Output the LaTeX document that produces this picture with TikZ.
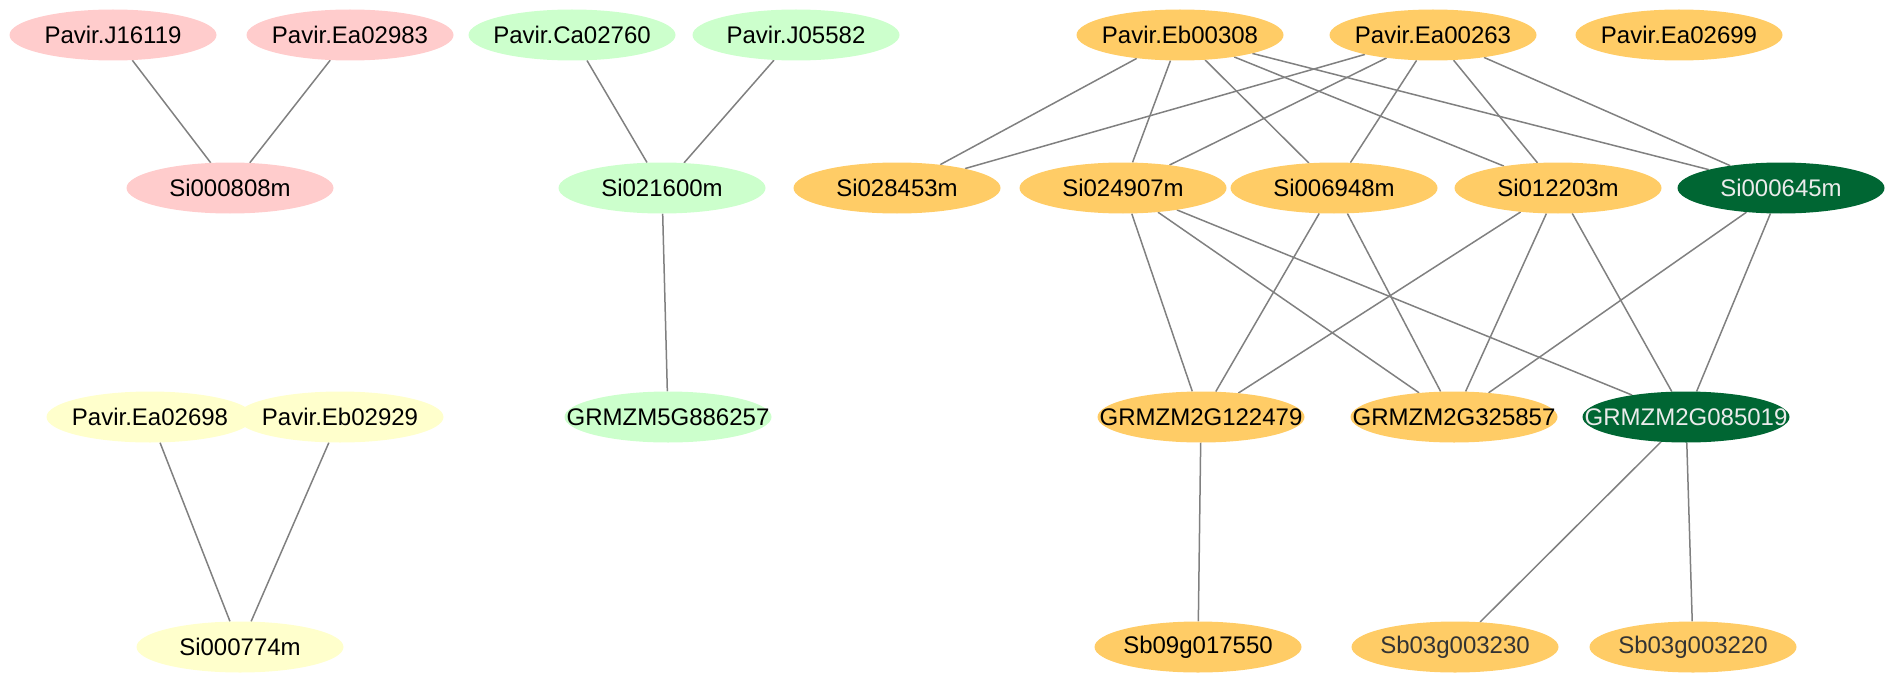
\documentclass[tikz,border=0pt]{standalone}
\usepackage{fontspec}
\setmainfont{Liberation Sans}
\usetikzlibrary{shapes.geometric,backgrounds}
\definecolor{cpink}{HTML}{FFCCCC}
\definecolor{cmint}{HTML}{CCFFCC}
\definecolor{cpale}{HTML}{FFFFCC}
\definecolor{corange}{HTML}{FFCC66}
\definecolor{cdark}{HTML}{006633}
\definecolor{cedge}{HTML}{808080}
\definecolor{cgreytxt}{HTML}{333333}
\newcommand\genelbl[1]{\makebox[0pt]{#1}}
\tikzset{
  gene/.style={ellipse, inner sep=0pt, minimum width=207pt, minimum height=51pt,
    font=\fontsize{24}{28}\selectfont, text=black},
  pinknode/.style={gene, fill=cpink},
  mintnode/.style={gene, fill=cmint},
  palenode/.style={gene, fill=cpale},
  orangenode/.style={gene, fill=corange},
  darknode/.style={gene, fill=cdark, text=white!92!black},
  link/.style={draw=cedge, line width=1.5pt}
}
\begin{document}
\begin{tikzpicture}[x=1pt,y=-1pt]
\useasboundingbox (0,0) rectangle (1886,674);
% row 1
\node[pinknode] (j16119) at (113,35) {\genelbl{Pavir.J16119}};
\node[pinknode] (ea02983) at (350,35) {\genelbl{Pavir.Ea02983}};
\node[mintnode] (ca02760) at (572,35) {\genelbl{Pavir.Ca02760}};
\node[mintnode] (j05582) at (796,35) {\genelbl{Pavir.J05582}};
\node[orangenode] (eb00308) at (1180,35) {\genelbl{Pavir.Eb00308}};
\node[orangenode] (ea00263) at (1433,35) {\genelbl{Pavir.Ea00263}};
\node[orangenode] (ea02699) at (1679,35) {\genelbl{Pavir.Ea02699}};
% row 2
\node[pinknode] (si000808) at (230,188) {\genelbl{Si000808m}};
\node[mintnode] (si021600) at (662,188) {\genelbl{Si021600m}};
\node[orangenode] (si028453) at (897,188) {\genelbl{Si028453m}};
\node[orangenode] (si024907) at (1123,188) {\genelbl{Si024907m}};
\node[orangenode] (si006948) at (1334,188) {\genelbl{Si006948m}};
\node[orangenode] (si012203) at (1558,188) {\genelbl{Si012203m}};
\node[darknode] (si000645) at (1781,188) {\genelbl{Si000645m}};
% row 3
\node[palenode] (ea02698) at (150,417) {\genelbl{Pavir.Ea02698}};
\node[palenode] (eb02929) at (340,417) {\genelbl{Pavir.Eb02929}};
\node[mintnode] (g886257) at (668,417) {\genelbl{GRMZM5G886257}};
\node[orangenode] (g122479) at (1201,417) {\genelbl{GRMZM2G122479}};
\node[orangenode] (g325857) at (1454,417) {\genelbl{GRMZM2G325857}};
\node[darknode] (g085019) at (1686,417) {\genelbl{GRMZM2G085019}};
% row 4
\node[palenode] (si000774) at (240,647) {\genelbl{Si000774m}};
\node[orangenode] (sb017550) at (1198,647) {\genelbl{Sb09g017550}};
\node[orangenode, text=cgreytxt] (sb003230) at (1455,647) {\genelbl{Sb03g003230}};
\node[orangenode, text=cgreytxt] (sb003220) at (1693,647) {\genelbl{Sb03g003220}};
% edges
\begin{scope}[on background layer]
\draw[link] (j16119) -- (si000808);
\draw[link] (ea02983) -- (si000808);
\draw[link] (ca02760) -- (si021600);
\draw[link] (j05582) -- (si021600);
\draw[link] (si021600) -- (g886257);
\draw[link] (ea02698) -- (si000774);
\draw[link] (eb02929) -- (si000774);
\draw[link] (eb00308) -- (si028453);
\draw[link] (eb00308) -- (si024907);
\draw[link] (eb00308) -- (si006948);
\draw[link] (eb00308) -- (si012203);
\draw[link] (eb00308) -- (si000645);
\draw[link] (ea00263) -- (si028453);
\draw[link] (ea00263) -- (si024907);
\draw[link] (ea00263) -- (si006948);
\draw[link] (ea00263) -- (si012203);
\draw[link] (ea00263) -- (si000645);
\draw[link] (si024907) -- (g122479);
\draw[link] (si024907) -- (g325857);
\draw[link] (si024907) -- (g085019);
\draw[link] (si006948) -- (g122479);
\draw[link] (si006948) -- (g325857);
\draw[link] (si012203) -- (g122479);
\draw[link] (si012203) -- (g325857);
\draw[link] (si012203) -- (g085019);
\draw[link] (si000645) -- (g325857);
\draw[link] (si000645) -- (g085019);
\draw[link] (g122479) -- (sb017550);
\draw[link] (g085019) -- (sb003230);
\draw[link] (g085019) -- (sb003220);
\end{scope}
\end{tikzpicture}
\end{document}
